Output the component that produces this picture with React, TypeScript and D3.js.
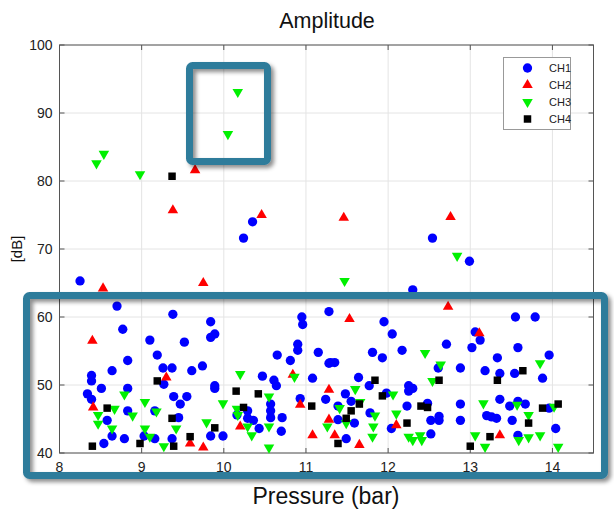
import React from "react";
import * as d3 from "d3";

// [pressure (bar), amplitude (dB)]
const ch1: [number, number][] = [
  [8.25, 65.3], [10.24, 71.6], [10.35, 74.0], [12.54, 71.6], [12.99, 68.2], [12.3, 64.0],
  [8.7, 61.6], [8.77, 58.2], [8.83, 53.6], [8.64, 52.1], [8.39, 51.4], [8.39, 50.6],
  [8.51, 49.5], [8.83, 49.5], [8.34, 48.7], [8.39, 47.9], [8.83, 46.2], [8.58, 44.8],
  [8.64, 42.5], [8.54, 41.4], [8.79, 42.1], [9.03, 42.5], [9.16, 42.1], [9.37, 42.1],
  [9.38, 60.4], [9.1, 56.6], [9.52, 56.3], [9.19, 54.4], [9.26, 52.5], [9.37, 52.5],
  [9.61, 52.1], [9.27, 50.1], [9.39, 48.3], [9.55, 48.3], [9.47, 47.2], [9.45, 45.2],
  [9.16, 46.2], [9.84, 59.3], [9.89, 57.5], [9.84, 57.0], [9.74, 52.8], [9.89, 49.9],
  [9.89, 49.5], [9.84, 42.5], [9.99, 42.5], [10.16, 45.6], [10.29, 46.2], [10.29, 45.1],
  [10.36, 44.8], [10.43, 43.6], [10.47, 51.3], [10.61, 50.7], [10.64, 49.9], [10.57, 47.2],
  [10.57, 46.2], [10.57, 45.2], [10.71, 45.2], [10.7, 43.2], [10.65, 54.4], [10.81, 53.6],
  [10.9, 56.0], [10.9, 55.1], [10.95, 60.0], [10.96, 58.9], [11.15, 54.8], [11.28, 60.8],
  [11.28, 53.2], [11.08, 51.0], [10.93, 48.0], [11.24, 47.9], [11.95, 59.3], [12.05, 57.5],
  [11.81, 54.8], [11.93, 54.0], [12.17, 55.1], [12.71, 56.0], [11.3, 53.3], [11.35, 53.3],
  [11.64, 51.1], [11.77, 49.9], [11.48, 48.7], [11.55, 47.6], [11.39, 46.9], [11.39, 44.9],
  [11.59, 44.4], [11.78, 45.9], [11.98, 48.8], [11.49, 42.1], [12.04, 43.6], [12.25, 49.9],
  [12.3, 49.5], [12.25, 49.1], [12.23, 46.9], [12.48, 47.3], [12.52, 44.8], [12.62, 45.4],
  [12.62, 44.8], [12.52, 42.8], [12.61, 52.5], [12.88, 52.5], [12.88, 47.2], [12.88, 44.8],
  [13.55, 60.0], [13.79, 60.0], [13.06, 57.8], [13.12, 56.6], [13.02, 55.5], [13.58, 55.5],
  [13.33, 54.0], [13.96, 54.4], [13.18, 52.1], [13.36, 51.7], [13.54, 51.7], [13.88, 51.0],
  [13.36, 47.9], [13.48, 46.9], [13.58, 47.6], [13.67, 47.2], [13.96, 46.6], [13.2, 45.5],
  [13.26, 45.3], [13.32, 45.1], [13.51, 44.8], [14.04, 43.6], [13.58, 42.6],
];

const ch2: [number, number][] = [
  [8.53, 64.2], [9.65, 81.6], [9.38, 75.7], [10.46, 75.0], [9.75, 65.0], [11.46, 74.6],
  [12.76, 74.7], [12.73, 61.5], [8.4, 56.5], [8.41, 46.7], [9.3, 51.1], [9.59, 41.4],
  [9.75, 40.8], [10.2, 43.9], [10.84, 51.5], [10.93, 47.1], [11.08, 42.6], [11.28, 49.3],
  [11.28, 44.9], [11.53, 59.7], [11.35, 42.6], [11.65, 41.2], [12.1, 44.1], [13.11, 57.6],
  [13.36, 42.6],
];

const ch3: [number, number][] = [
  [8.45, 82.6], [8.54, 84.0], [8.98, 81.0], [10.17, 93.1], [10.05, 86.9], [11.47, 65.3],
  [12.84, 69.0], [8.79, 48.6], [8.67, 46.5], [8.47, 45.6], [8.47, 44.3], [8.89, 45.5],
  [8.64, 43.6], [9.04, 47.5], [9.18, 46.1], [9.04, 43.6], [9.1, 42.4], [9.27, 41.0],
  [9.42, 43.6], [9.79, 44.5], [9.99, 47.3], [10.2, 51.6], [10.16, 46.5], [10.17, 45.6],
  [10.29, 43.9], [10.34, 42.6], [10.55, 48.3], [10.55, 43.9], [10.55, 40.8], [10.86, 51.2],
  [11.26, 43.9], [11.41, 46.6], [11.49, 44.4], [11.6, 49.4], [11.66, 47.5], [11.84, 45.5],
  [11.82, 43.9], [11.81, 42.4], [12.06, 48.6], [12.1, 45.8], [12.25, 42.4], [12.3, 41.9],
  [12.39, 42.6], [12.41, 41.9], [12.45, 54.7], [12.64, 53.0], [12.54, 50.6], [13.85, 53.2],
  [13.16, 47.3], [13.57, 47.1], [13.71, 45.6], [14.02, 46.8], [13.06, 42.6], [13.59, 41.9],
  [13.71, 42.3], [13.85, 42.6], [13.18, 40.9], [14.07, 40.9],
];

const ch4: [number, number][] = [
  [9.37, 80.7], [8.4, 41.0], [8.58, 46.6], [8.98, 41.4], [9.19, 50.6], [9.37, 45.1],
  [9.39, 41.0], [9.59, 42.4], [9.89, 43.7], [10.15, 49.1], [10.24, 46.7], [10.42, 48.7],
  [11.07, 46.9], [11.39, 41.4], [11.49, 45.1], [11.55, 46.2], [11.65, 47.2], [11.84, 50.7],
  [11.93, 48.4], [12.23, 44.4], [12.4, 46.9], [12.48, 46.7], [12.62, 50.7], [13.33, 50.7],
  [13.64, 52.1], [13.88, 46.6], [14.07, 47.2], [13.71, 44.4], [13.24, 42.4], [13.0, 41.0],
];

const xTicks = [8, 9, 10, 11, 12, 13, 14];
const yTicks = [40, 50, 60, 70, 80, 90, 100];
const seriesNames = ["CH1", "CH2", "CH3", "CH4"];

const W = 614;
const H = 512;
const M = { left: 59.5, right: 593.5, top: 45, bottom: 453 };
const FONT = "'Liberation Sans', Arial, sans-serif";

const x = d3.scaleLinear().domain([8, 14.5]).range([M.left, M.right]);
const y = d3.scaleLinear().domain([40, 100]).range([M.bottom, M.top]);

const circle = d3.symbol(d3.symbolCircle, 68)();
const tri = d3.symbol(d3.symbolTriangle, 48)();
const square = d3.symbol(d3.symbolSquare, 56)();

const series = [
  { name: seriesNames[0], data: ch1, path: circle, color: "#0000ff", rot: 0 },
  { name: seriesNames[1], data: ch2, path: tri, color: "#ff0000", rot: 0 },
  { name: seriesNames[2], data: ch3, path: tri, color: "#00f000", rot: 180 },
  { name: seriesNames[3], data: ch4, path: square, color: "#000000", rot: 0 },
];

const TEAL = "#2e7b9b";

export default function App() {
  return (
    <svg
      width={W}
      height={H}
      style={{ position: "absolute", left: 0, top: 0, background: "#fff" }}
      fontFamily={FONT}
    >
      <defs>
        <filter id="shadow" x="-10%" y="-10%" width="130%" height="130%">
          <feDropShadow dx="3" dy="3" stdDeviation="2" floodColor="#000" floodOpacity="0.45" />
        </filter>
      </defs>
      <rect width={W} height={H} fill="#fff" />

      {/* grid */}
      {xTicks.map((t) => (
        <line key={"gx" + t} x1={x(t)} x2={x(t)} y1={M.top} y2={M.bottom} stroke="#e4e4e4" />
      ))}
      {yTicks.map((t) => (
        <line key={"gy" + t} x1={M.left} x2={M.right} y1={y(t)} y2={y(t)} stroke="#e4e4e4" />
      ))}

      {/* box + ticks */}
      <rect
        x={M.left}
        y={M.top}
        width={M.right - M.left}
        height={M.bottom - M.top}
        fill="none"
        stroke="#555"
      />
      {xTicks.map((t) => (
        <g key={"tx" + t}>
          <line x1={x(t)} x2={x(t)} y1={M.bottom} y2={M.bottom - 5} stroke="#555" />
          <line x1={x(t)} x2={x(t)} y1={M.top} y2={M.top + 5} stroke="#555" />
          <text x={x(t)} y={M.bottom + 19} textAnchor="middle" fontSize={14} fill="#222">
            {t}
          </text>
        </g>
      ))}
      {yTicks.map((t) => (
        <g key={"ty" + t}>
          <line x1={M.left} x2={M.left + 5} y1={y(t)} y2={y(t)} stroke="#555" />
          <line x1={M.right} x2={M.right - 5} y1={y(t)} y2={y(t)} stroke="#555" />
          <text x={M.left - 7} y={y(t) + 5} textAnchor="end" fontSize={14} fill="#222">
            {t}
          </text>
        </g>
      ))}

      {/* points */}
      {series.map((s) => (
        <g key={s.name} fill={s.color}>
          {s.data.map((d, i) => (
            <path
              key={i}
              d={s.path}
              transform={`translate(${x(d[0])},${y(d[1])}) rotate(${s.rot})`}
            />
          ))}
        </g>
      ))}

      {/* legend */}
      <rect x={503.5} y={57.5} width={67} height={72} fill="#fff" stroke="#999" />
      {series.map((s, i) => (
        <g key={"lg" + s.name}>
          <path
            d={s.path}
            fill={s.color}
            transform={`translate(527.5,${68 + i * 17}) rotate(${s.rot})`}
          />
          <text x={549} y={72 + i * 17} fontSize={11} fill="#222">
            {s.name}
          </text>
        </g>
      ))}

      {/* labels */}
      <text x={327} y={28} textAnchor="middle" fontSize={21.5} fill="#111">
        Amplitude
      </text>
      <text x={326} y={504} textAnchor="middle" fontSize={23} fill="#111">
        Pressure (bar)
      </text>
      <text
        transform={`translate(22,${(M.top + M.bottom) / 2}) rotate(-90)`}
        textAnchor="middle"
        fontSize={15}
        fill="#111"
      >
        [dB]
      </text>

      {/* highlight boxes */}
      <g filter="url(#shadow)" fill="none" stroke={TEAL} strokeWidth={7}>
        <rect x={189.5} y={65.5} width={78} height={96} rx={3} />
        <rect x={26.5} y={295.5} width={578} height={180} rx={3} />
      </g>
    </svg>
  );
}
